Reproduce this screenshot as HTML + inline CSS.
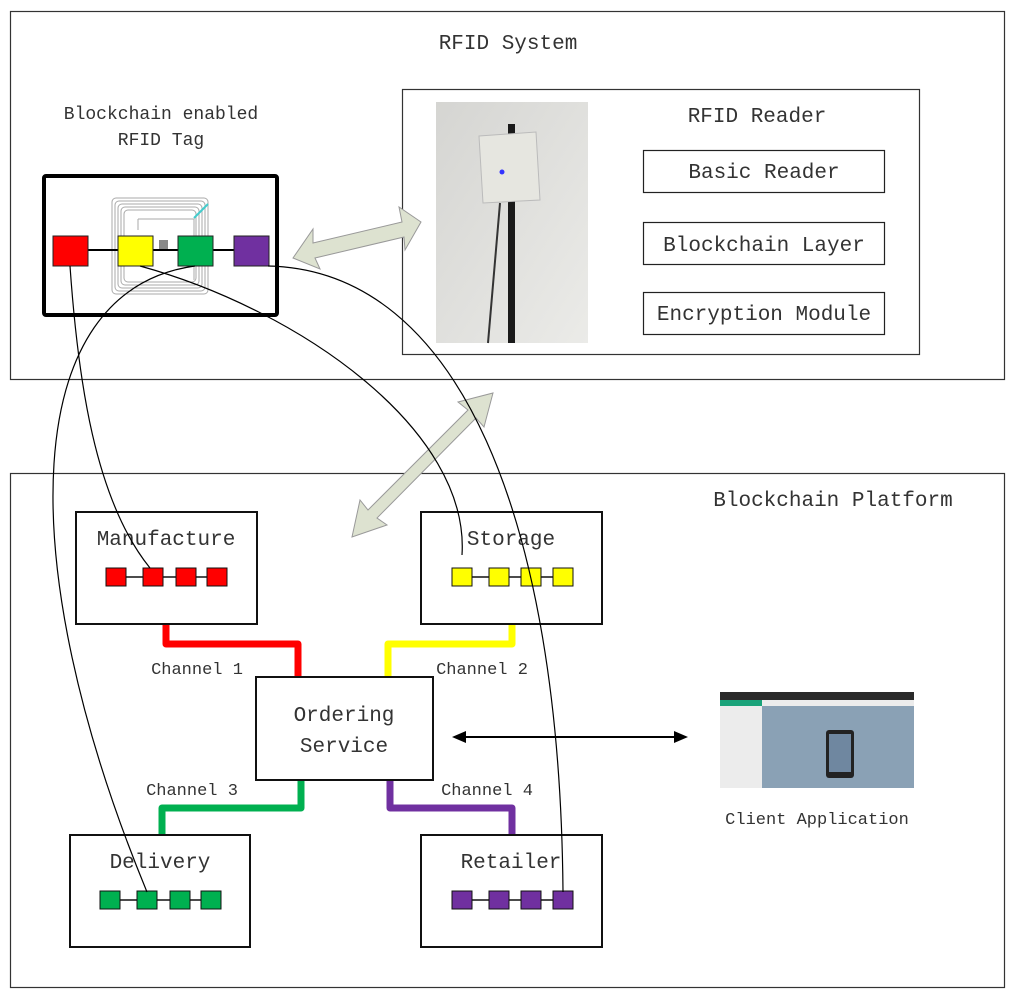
<!DOCTYPE html>
<html><head><meta charset="utf-8"><style>
body{margin:0;background:#fff}
svg text{font-family:"Liberation Mono",monospace;fill:#333}
</style></head><body>
<svg width="1016" height="1000" viewBox="0 0 1016 1000" xmlns="http://www.w3.org/2000/svg">
<rect x="0" y="0" width="1016" height="1000" fill="#fff"/>
<rect x="10.5" y="11.5" width="994" height="368" fill="none" stroke="#333" stroke-width="1.2"/>
<text x="508" y="49" font-size="21" text-anchor="middle">RFID System</text>
<text x="161" y="119" font-size="18" text-anchor="middle">Blockchain enabled</text>
<text x="161" y="145" font-size="18" text-anchor="middle">RFID Tag</text>
<rect x="44" y="176" width="233" height="139" rx="2" fill="#fff" stroke="#000" stroke-width="4"/>
<g fill="none" stroke="#aaa" stroke-width="1">
<rect x="112" y="198" width="96" height="96" rx="4"/>
<rect x="115" y="201" width="90" height="90" rx="4"/>
<rect x="118" y="204" width="84" height="84" rx="4"/>
<rect x="121" y="207" width="78" height="78" rx="4"/>
<rect x="124" y="210" width="72" height="72" rx="4"/>
<path d="M138 219 H194 V280 M138 219 V230"/>
</g>
<line x1="194" y1="218" x2="208" y2="204" stroke="#4cc" stroke-width="2"/>
<rect x="159" y="240" width="9" height="9" fill="#888"/>
<line x1="70" y1="250" x2="252" y2="250" stroke="#000" stroke-width="2"/>
<rect x="53" y="236" width="35" height="30" fill="#f00" stroke="#222"/>
<rect x="118" y="236" width="35" height="30" fill="#ff0" stroke="#222"/>
<rect x="178" y="236" width="35" height="30" fill="#00b050" stroke="#222"/>
<rect x="234" y="236" width="35" height="30" fill="#7030a0" stroke="#222"/>
<rect x="402.5" y="89.5" width="517" height="265" fill="#fff" stroke="#333" stroke-width="1.2"/>
<defs><linearGradient id="ph" x1="0" y1="0" x2="1" y2="1"><stop offset="0" stop-color="#d5d5d2"/><stop offset="1" stop-color="#ebebe8"/></linearGradient></defs>
<rect x="436" y="102" width="152" height="241" fill="url(#ph)"/>
<rect x="508" y="124" width="7" height="219" fill="#1a1a1a"/>
<path d="M479 136 L536 132 L540 200 L483 203 Z" fill="#e6e6e0" stroke="#bbb"/>
<circle cx="502" cy="172" r="2.5" fill="#33f"/>
<path d="M500 203 Q495 260 488 343" fill="none" stroke="#333" stroke-width="2"/>
<text x="757" y="122" font-size="21" text-anchor="middle">RFID Reader</text>
<rect x="643.5" y="150.5" width="241" height="42" fill="none" stroke="#222" stroke-width="1.2"/>
<text x="764" y="178" font-size="21" text-anchor="middle">Basic Reader</text>
<rect x="643.5" y="222.5" width="241" height="42" fill="none" stroke="#222" stroke-width="1.2"/>
<text x="764" y="251" font-size="21" text-anchor="middle">Blockchain Layer</text>
<rect x="643.5" y="292.5" width="241" height="42" fill="none" stroke="#222" stroke-width="1.2"/>
<text x="764" y="320" font-size="21" text-anchor="middle">Encryption Module</text>
<rect x="10.5" y="473.5" width="994" height="514" fill="none" stroke="#333" stroke-width="1.2"/>
<text x="833" y="506" font-size="21" text-anchor="middle">Blockchain Platform</text>
<g fill="none" stroke-width="7" stroke-linecap="round" stroke-linejoin="round">
<path d="M166 625 V644 H298 V677" stroke="#f00"/>
<path d="M512 625 V644 H388 V677" stroke="#ff0"/>
<path d="M301 780 V808 H162 V835" stroke="#00b050"/>
<path d="M390 780 V808 H512 V835" stroke="#7030a0"/>
</g>
<g fill="#fff" stroke="#111" stroke-width="2">
<rect x="76" y="512" width="181" height="112"/>
<rect x="421" y="512" width="181" height="112"/>
<rect x="256" y="677" width="177" height="103"/>
<rect x="70" y="835" width="180" height="112"/>
<rect x="421" y="835" width="181" height="112"/>
</g>
<text x="166" y="545" font-size="21" text-anchor="middle">Manufacture</text>
<text x="511" y="545" font-size="21" text-anchor="middle">Storage</text>
<text x="344" y="721" font-size="21" text-anchor="middle">Ordering</text>
<text x="344" y="752" font-size="21" text-anchor="middle">Service</text>
<text x="160" y="868" font-size="21" text-anchor="middle">Delivery</text>
<text x="511" y="868" font-size="21" text-anchor="middle">Retailer</text>
<text x="197" y="674" font-size="17" text-anchor="middle">Channel 1</text>
<text x="482" y="674" font-size="17" text-anchor="middle">Channel 2</text>
<text x="192" y="795" font-size="17" text-anchor="middle">Channel 3</text>
<text x="487" y="795" font-size="17" text-anchor="middle">Channel 4</text>
<g stroke="#111" stroke-width="1.5">
<line x1="115" y1="577" x2="218" y2="577"/>
<line x1="461" y1="577" x2="563" y2="577"/>
<line x1="110" y1="900" x2="211" y2="900"/>
<line x1="461" y1="900" x2="563" y2="900"/>
</g>
<g stroke="#111" stroke-width="1">
<rect x="106" y="568" width="20" height="18" fill="#f00"/><rect x="143" y="568" width="20" height="18" fill="#f00"/><rect x="176" y="568" width="20" height="18" fill="#f00"/><rect x="207" y="568" width="20" height="18" fill="#f00"/>
<rect x="452" y="568" width="20" height="18" fill="#ff0"/><rect x="489" y="568" width="20" height="18" fill="#ff0"/><rect x="521" y="568" width="20" height="18" fill="#ff0"/><rect x="553" y="568" width="20" height="18" fill="#ff0"/>
<rect x="100" y="891" width="20" height="18" fill="#00b050"/><rect x="137" y="891" width="20" height="18" fill="#00b050"/><rect x="170" y="891" width="20" height="18" fill="#00b050"/><rect x="201" y="891" width="20" height="18" fill="#00b050"/>
<rect x="452" y="891" width="20" height="18" fill="#7030a0"/><rect x="489" y="891" width="20" height="18" fill="#7030a0"/><rect x="521" y="891" width="20" height="18" fill="#7030a0"/><rect x="553" y="891" width="20" height="18" fill="#7030a0"/>
</g>
<g fill="#dde2d0" stroke="#999" stroke-width="1">
<path d="M293 258 L313 229 L313 243 L402 222 L399 207 L421 222 L405 250 L404 237 L315 258 L320 269 Z"/>
<path d="M352 537 L360 500 L368 510 L468 410 L458 402 L493 393 L484 427 L476 418 L377 518 L387 525 Z"/>
</g>
<g fill="none" stroke="#000" stroke-width="1.2">
<path d="M70 266 C78 380 95 500 150 568"/>
<path d="M140 266 C300 310 470 430 462 555"/>
<path d="M195 266 C20 290 10 560 147 892"/>
<path d="M268 266 C460 270 560 520 563 892"/>
</g>
<line x1="462" y1="737" x2="678" y2="737" stroke="#000" stroke-width="2"/>
<path d="M452 737 L466 731 L466 743 Z M688 737 L674 731 L674 743 Z" fill="#000"/>
<rect x="720" y="692" width="194" height="96" fill="#ececec"/>
<rect x="720" y="692" width="194" height="8" fill="#2a2a2a"/>
<rect x="720" y="700" width="42" height="6" fill="#1aa37a"/>
<rect x="762" y="706" width="152" height="82" fill="#8aa1b5"/>
<rect x="826" y="730" width="28" height="48" rx="3" fill="#222"/>
<rect x="829" y="734" width="22" height="38" fill="#6f87a0"/>
<text x="817" y="824" font-size="17" text-anchor="middle">Client Application</text>
</svg>
</body></html>
